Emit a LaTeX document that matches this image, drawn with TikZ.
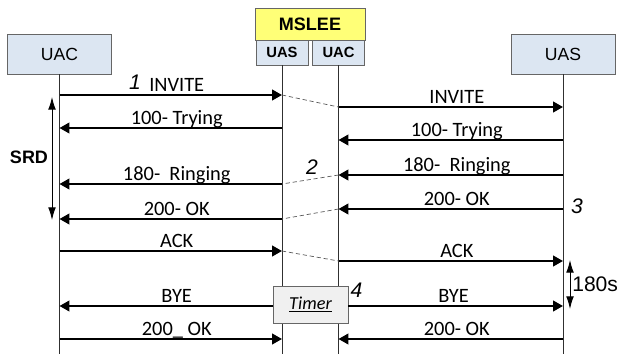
\documentclass[tikz,border=0pt]{standalone}
\usepackage{fontspec}
\setmainfont{Carlito}
\newfontfamily\arialf{Liberation Sans}
\usepackage{tikz}
\usetikzlibrary{arrows.meta,positioning,calc}
\definecolor{boxblue}{HTML}{DCE6F2}
\definecolor{sleeyellow}{HTML}{FFFF77}
\definecolor{timergray}{HTML}{F0F0F0}
\definecolor{linegray}{HTML}{303030}

\begin{document}
\begin{tikzpicture}[
  x=0.025cm, y=-0.025cm,
  entity/.style={draw=gray!80!black, fill=boxblue, line width=0.6pt, minimum width=2.6cm, minimum height=1cm, inner sep=0pt, font=\arialf\fontsize{12.5}{14}\selectfont},
  subbox/.style={draw=gray!80!black, fill=boxblue, line width=0.6pt, minimum width=1.3cm, minimum height=0.625cm, inner sep=0pt, font=\arialf\bfseries\fontsize{10.5}{12}\selectfont},
  life/.style={linegray, line width=0.7pt},
  msg/.style={line width=1.5pt, -{Triangle[length=7pt,width=7.5pt]}},
  bmsg/.style={line width=1.5pt, {Triangle[length=7pt,width=7.5pt]}-},
  relay/.style={dash pattern=on 3pt off 2pt, gray!70!black, line width=0.5pt},
  lbl/.style={font=\fontsize{14.5}{16}\selectfont, anchor=base, inner sep=0pt, pos=0.527, yshift=2.6pt},
  num/.style={font=\arialf\itshape\fontsize{15}{17}\selectfont, anchor=base, inner sep=0pt},
  span/.style={line width=0.7pt, {Latex[length=9pt,width=5.5pt]}-{Latex[length=9pt,width=5.5pt]}},
]
\useasboundingbox (0,0) rectangle (621,354);

% ─── Entities ───
\node[entity] (uac) at (59.5,54) {UAC};
\node[entity] (uas) at (563,54) {UAS};
\node[draw=gray!80!black, fill=sleeyellow, line width=0.6pt, minimum width=2.75cm, minimum height=0.8cm, inner sep=0pt, font=\arialf\bfseries\fontsize{12.8}{14}\selectfont] (slee) at (310,24) {MSLEE};
\node[subbox] (uasm) at (282,52.5) {UAS};
\node[subbox] (uacm) at (338.5,52.5) {UAC};

% Rows of the call flow
\foreach \r/\y in {a/95, b/107, c/128, d/140, e/175, f/184, g/209, h/219, i/251, j/261, k/306, l/339}
  \coordinate (row\r) at (0,\y);
\coordinate (bottom) at (0,354);

% Lifelines
\foreach \e in {uac, uasm, uacm, uas}
  \draw[life] (\e.south) -- (\e |- bottom);

% ─── UAC <-> MSLEE (UAS side) ───
\draw[msg]  (uac |- rowa) -- (uasm |- rowa) node[lbl]{INVITE};
\draw[bmsg] (uac |- rowc) -- (uasm |- rowc) node[lbl]{100- Trying};
\draw[bmsg] (uac |- rowf) -- (uasm |- rowf) node[lbl]{180-\ \ Ringing};
\draw[bmsg] (uac |- rowh) -- (uasm |- rowh) node[lbl]{200- OK};
\draw[msg]  (uac |- rowi) -- (uasm |- rowi) node[lbl]{ACK};
\draw[msg]  (uac |- rowl) -- (uasm |- rowl) node[lbl]{200\_ OK};

% ─── MSLEE (UAC side) <-> UAS ───
\draw[msg]  (uacm |- rowb) -- (uas |- rowb) node[lbl]{INVITE};
\draw[bmsg] (uacm |- rowd) -- (uas |- rowd) node[lbl]{100- Trying};
\draw[bmsg] (uacm |- rowe) -- (uas |- rowe) node[lbl]{180-\ \ Ringing};
\draw[bmsg] (uacm |- rowg) -- (uas |- rowg) node[lbl]{200- OK};
\draw[msg]  (uacm |- rowj) -- (uas |- rowj) node[lbl]{ACK};
\draw[bmsg] (uacm |- rowl) -- (uas |- rowl) node[lbl]{200- OK};

% Relay inside MSLEE
\draw[relay] (uasm |- rowa) -- (uacm |- rowb);
\draw[relay] (uacm |- rowe) -- (uasm |- rowf);
\draw[relay] (uacm |- rowg) -- (uasm |- rowh);
\draw[relay] (uasm |- rowi) -- (uacm |- rowj);

% Timer and BYE
\node[draw=gray!80!black, fill=timergray, line width=0.6pt, minimum width=1.875cm, minimum height=0.925cm, inner sep=0pt, font=\itshape\fontsize{13}{15}\selectfont] (timer) at (310.5,304.5) {\underline{Timer}};
\draw[bmsg] (uac |- rowk) -- (timer.west |- rowk) node[lbl, pos=0.55]{BYE};
\draw[msg]  (timer.east |- rowk) -- (uas |- rowk) node[lbl, pos=0.49]{BYE};

% Step numbers
\node[num] (n1) at (135,90) {1};
\node[num] (n2) at (312,175) {2};
\node[num] (n3) at (577,214) {3};
\node[num] (n4) at (356.5,298) {4};

% SRD and 180s spans
\coordinate (srdtop) at (52,97);
\coordinate (srdbot) at (52,220);
\draw[span] (srdtop) -- (srdbot);
\node[font=\arialf\bfseries\fontsize{12.8}{14}\selectfont] (srd) at (29,157.5) {SRD};

\coordinate (ttop) at (570,260);
\coordinate (tbot) at (570,309);
\draw[span] (ttop) -- (tbot);
\node[font=\arialf\fontsize{15}{17}\selectfont, anchor=base west, inner sep=0pt] (tlbl) at (572,292) {180s};

\end{tikzpicture}
\end{document}
